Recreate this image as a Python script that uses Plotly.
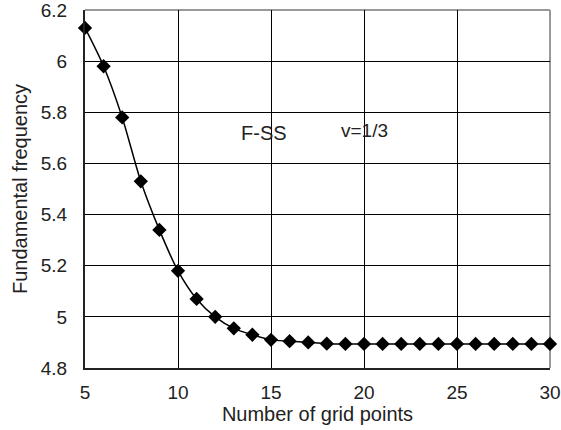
import plotly.graph_objects as go

grid_points = list(range(5, 31))
frequency = [6.13, 5.98, 5.78, 5.53, 5.34, 5.18, 5.07, 5.00, 4.955, 4.93,
             4.91, 4.905, 4.90, 4.895, 4.894, 4.894, 4.894, 4.894, 4.894, 4.894,
             4.894, 4.894, 4.894, 4.894, 4.894, 4.894]
x_ticks = [5, 10, 15, 20, 25, 30]
y_ticks = [4.8, 5.0, 5.2, 5.4, 5.6, 5.8, 6.0, 6.2]
y_tick_text = ["4.8", "5", "5.2", "5.4", "5.6", "5.8", "6", "6.2"]

font = "Liberation Sans, Arial, sans-serif"

fig = go.Figure()
fig.add_trace(go.Scatter(
    x=grid_points, y=frequency, mode="lines+markers",
    line=dict(color="black", width=1.5, shape="spline", smoothing=0.8),
    marker=dict(symbol="diamond", size=11, color="black"),
    cliponaxis=False, showlegend=False,
))

fig.update_layout(
    width=561, height=430,
    margin=dict(l=85, r=11, t=10, b=62, autoexpand=False),
    paper_bgcolor="white", plot_bgcolor="white",
    font=dict(family=font, size=19, color="#222"),
    xaxis=dict(range=[5, 30], tickvals=x_ticks, showgrid=True, gridcolor="black",
               gridwidth=1, showline=True, linecolor="#222", linewidth=2,
               ticks="outside", ticklen=6, tickcolor="white", zeroline=False,
               automargin=False, ticklabeloverflow="allow",
               title=dict(text="Number of grid points", standoff=4, font=dict(size=20)),
               tickfont=dict(size=19)),
    yaxis=dict(range=[4.8, 6.2], tickvals=y_ticks, ticktext=y_tick_text,
               showgrid=True, gridcolor="black", gridwidth=1, showline=True,
               linecolor="#222", linewidth=2, ticks="outside", ticklen=12,
               tickcolor="white", zeroline=False, automargin=False,
               ticklabeloverflow="allow",
               title=dict(text="Fundamental frequency", standoff=8, font=dict(size=20)),
               tickfont=dict(size=19)),
    shapes=[
        dict(type="line", xref="paper", yref="paper", x0=0, x1=1, y0=1, y1=1,
             line=dict(color="#999", width=2), layer="between"),
        dict(type="line", xref="paper", yref="paper", x0=1, x1=1, y0=0, y1=1,
             line=dict(color="#999", width=2), layer="between"),
    ],
    annotations=[
        dict(x=14.6, y=5.72, text="F-SS", showarrow=False, font=dict(size=20)),
        dict(x=20.05, y=5.73, text="v=1/3", showarrow=False, font=dict(size=19)),
    ],
)

fig.write_html("out.html", config={"displayModeBar": False},
               post_script="document.body.style.margin='0px';")
